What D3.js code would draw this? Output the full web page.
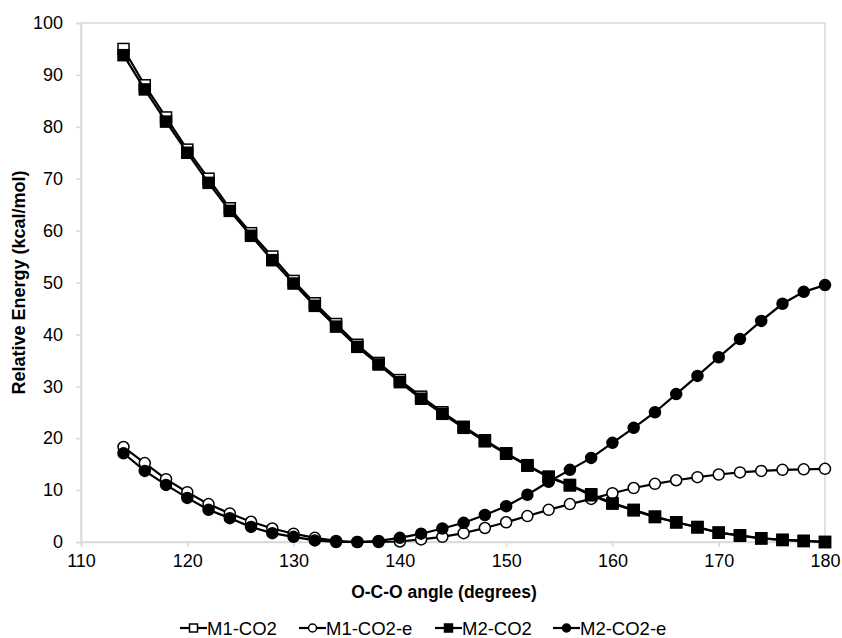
<!DOCTYPE html>
<html>
<head>
<meta charset="utf-8">
<script src="https://cdn.jsdelivr.net/npm/d3@7"></script>
<style>
  body { margin: 0; background: #fff; }
  svg text { font-family: "Liberation Sans", Arial, sans-serif; fill: #000; }
</style>
</head>
<body>
<div id="chart"></div>
<script>
// O-C-O angle (degrees)
const angles = [114,116,118,120,122,124,126,128,130,132,134,136,138,140,142,144,146,148,150,152,154,156,158,160,162,164,166,168,170,172,174,176,178,180];

// Relative energies (kcal/mol)
const m1co2  = [95.0,88.0,81.8,75.6,70.0,64.3,59.5,55.0,50.3,46.0,42.0,38.0,34.5,31.2,28.0,25.0,22.2,19.6,17.1,14.8,12.6,11.0,9.2,7.5,6.2,4.9,3.8,2.9,1.8,1.3,0.7,0.4,0.2,0.0];
const m1co2e = [18.3,15.2,12.1,9.6,7.3,5.5,3.9,2.6,1.6,0.8,0.2,0.0,0.0,0.1,0.5,1.0,1.7,2.7,3.8,5.0,6.2,7.3,8.3,9.4,10.4,11.2,11.9,12.5,13.0,13.4,13.7,13.9,14.0,14.1];
const m2co2  = [93.8,87.2,81.0,75.0,69.2,63.8,59.0,54.3,49.8,45.5,41.5,37.6,34.2,30.8,27.6,24.7,22.0,19.4,17.0,14.7,12.5,10.9,9.0,7.4,6.1,4.8,3.8,2.8,1.8,1.2,0.7,0.4,0.2,0.0];
const m2co2e = [17.1,13.7,11.0,8.5,6.2,4.6,2.9,1.7,1.0,0.3,0.0,0.0,0.2,0.8,1.6,2.6,3.7,5.2,6.9,9.1,11.6,13.9,16.2,19.1,22.0,25.0,28.5,32.0,35.6,39.1,42.6,45.9,48.2,49.5];

const xTicks = [110,120,130,140,150,160,170,180];
const yTicks = [0,10,20,30,40,50,60,70,80,90,100];

const seriesNames = ["M1-CO2", "M1-CO2-e", "M2-CO2", "M2-CO2-e"];
const seriesData = [m1co2, m1co2e, m2co2, m2co2e];
const markerShape = ["square", "circle", "square", "circle"];
const markerFill = ["#fff", "#fff", "#000", "#000"];

const width = 842, height = 638;
const margin = {top: 23, right: 17, bottom: 96, left: 81};

const svg = d3.select("#chart").append("svg")
    .attr("width", width)
    .attr("height", height);

const x = d3.scaleLinear().domain([110, 180]).range([margin.left, width - margin.right]);
const y = d3.scaleLinear().domain([0, 100]).range([height - margin.bottom, margin.top]);

// plot area border
svg.append("rect")
    .attr("x", x(110)).attr("y", y(100))
    .attr("width", x(180) - x(110)).attr("height", y(0) - y(100))
    .attr("fill", "none").attr("stroke", "#d9d9d9").attr("stroke-width", 1.5);

// axes
const xAxis = svg.append("g")
    .attr("transform", `translate(0,${y(0)})`)
    .call(d3.axisBottom(x).tickValues(xTicks).tickSize(5).tickPadding(7));
const yAxis = svg.append("g")
    .attr("transform", `translate(${x(110)},0)`)
    .call(d3.axisLeft(y).tickValues(yTicks).tickSize(5).tickPadding(13));
[xAxis, yAxis].forEach(g => {
    g.select(".domain").attr("stroke", "#d9d9d9").attr("stroke-width", 1.5);
    g.selectAll(".tick line").attr("stroke", "#d9d9d9").attr("stroke-width", 1.5);
    g.selectAll(".tick text").style("font-size", "18px").style("font-family", "Liberation Sans, Arial, sans-serif").attr("fill", "#000");
});

// axis titles
svg.append("text")
    .attr("x", 444)
    .attr("y", 598)
    .attr("text-anchor", "middle")
    .style("font-size", "17.5px").style("font-weight", "bold")
    .text("O-C-O angle (degrees)");

svg.append("text")
    .attr("transform", `translate(25,${(y(0) + y(100)) / 2}) rotate(-90)`)
    .attr("text-anchor", "middle")
    .style("font-size", "18px").style("font-weight", "bold")
    .text("Relative Energy (kcal/mol)");

// lines + markers
const line = d3.line().x(d => x(d[0])).y(d => y(d[1]));
const drawMarker = (g, shape, fill, size) => {
    if (shape === "square") {
        g.append("rect")
            .attr("x", -size / 2).attr("y", -size / 2)
            .attr("width", size).attr("height", size)
            .attr("fill", fill).attr("stroke", "#000").attr("stroke-width", 1.5);
    } else {
        g.append("circle")
            .attr("r", size / 2)
            .attr("fill", fill).attr("stroke", "#000").attr("stroke-width", 1.5);
    }
};

seriesData.forEach((vals, i) => {
    const pts = angles.map((a, k) => [a, vals[k]]);
    const g = svg.append("g").attr("class", "series");
    g.append("path")
        .datum(pts)
        .attr("fill", "none")
        .attr("stroke", "#000")
        .attr("stroke-width", 2.2)
        .attr("d", line);
    g.selectAll("g.pt")
        .data(pts)
        .enter().append("g")
        .attr("class", "pt")
        .attr("transform", d => `translate(${x(d[0])},${y(d[1])})`)
        .each(function() { drawMarker(d3.select(this), markerShape[i], markerFill[i], 11); });
});

// legend
const legendX = [180, 299, 435, 553];
const legendY = 628;
seriesNames.forEach((name, i) => {
    const g = svg.append("g").attr("transform", `translate(${legendX[i]},${legendY})`);
    g.append("line").attr("x1", 0).attr("x2", 27).attr("y1", 0).attr("y2", 0)
        .attr("stroke", "#000").attr("stroke-width", 2.2);
    const m = g.append("g").attr("transform", "translate(13.5,0)");
    drawMarker(m, markerShape[i], markerFill[i], 8);
    g.append("text").attr("x", 27).attr("y", 6.5)
        .style("font-size", "18.5px")
        .text(name);
});
</script>
</body>
</html>
